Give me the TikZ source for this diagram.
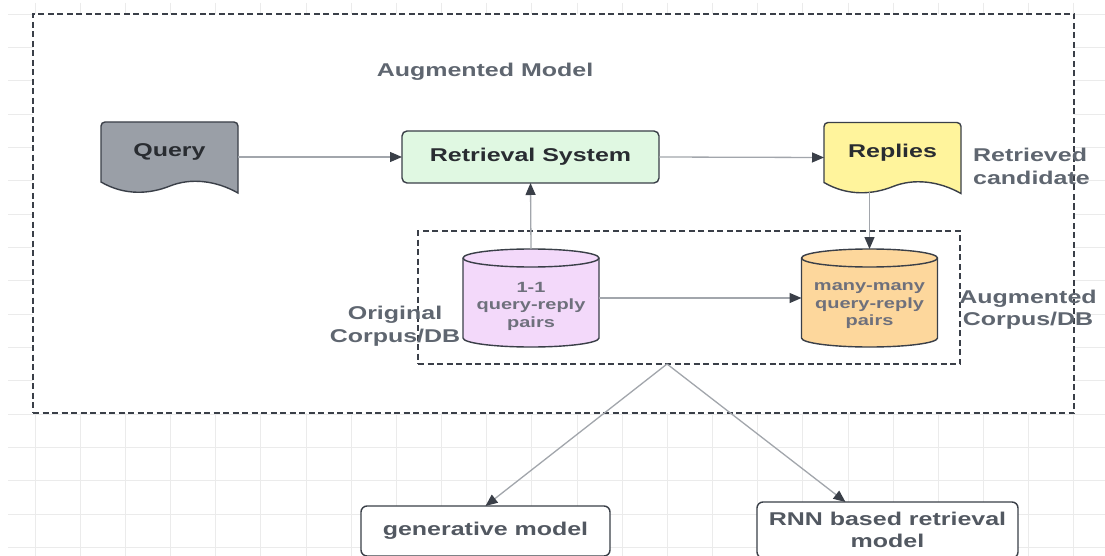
\documentclass[tikz,border=0pt]{standalone}
\usepackage{fontspec}
\setmainfont{Liberation Sans}[FakeStretch=1.35]
\usepackage{tikz}
\usepackage{xcolor}
\usetikzlibrary{arrows.meta,positioning,calc}

\definecolor{inkdark}{HTML}{3A3F48}
\definecolor{headink}{HTML}{292C31}
\definecolor{linkgray}{HTML}{A2A6AC}
\definecolor{gridgray}{HTML}{EBEBEB}
\definecolor{labelgray}{HTML}{5F6670}
\definecolor{dbink}{HTML}{6E707C}
\definecolor{boxink}{HTML}{525861}
\definecolor{querygray}{HTML}{9A9FA7}
\definecolor{retrgreen}{HTML}{E0F8E2}
\definecolor{replyyellow}{HTML}{FFF49C}
\definecolor{onepink}{HTML}{F3D9FA}
\definecolor{manyorange}{HTML}{FDD79C}

% sheet with a wavy lower edge, drawn over an empty node
\newcommand{\papershape}[2]{%
  \draw[line width=1.4pt, draw=inkdark, fill=#2, shift={(#1.south west)}]
    (0,0) .. controls (24,14) and (49,12) .. (69,4)
          .. controls (89,-4) and (114,-2) .. (137,11)
    [rounded corners=4pt] -- (137,-60) -- (0,-60) [sharp corners] -- cycle;}

% database drum, drawn over an empty node
\newcommand{\drumshape}[2]{%
  \draw[line width=1.4pt, draw=inkdark, fill=#2]
    ([yshift=-9pt]#1.north west) -- ([yshift=9pt]#1.south west)
    arc[start angle=180, end angle=360, x radius=68pt, y radius=9pt]
    -- ([yshift=-9pt]#1.north east)
    arc[start angle=0, end angle=180, x radius=68pt, y radius=9pt] -- cycle;
  \draw[line width=1.4pt, draw=inkdark] ([yshift=-9pt]#1.north west)
    arc[start angle=180, end angle=360, x radius=68pt, y radius=9pt];}

\begin{document}
\begin{tikzpicture}[x=1pt, y=-1pt,
    gridline/.style={draw=gridgray, line width=0.9pt},
    frame/.style={draw=inkdark, dash pattern=on 6pt off 3.5pt, line width=1.4pt, fill=white, inner sep=0pt, outer sep=0pt},
    blank/.style={inner sep=0pt, outer sep=0pt},
    heading/.style={font=\fontsize{18.5}{22.5}\selectfont\bfseries, text=headink},
    tag/.style={font=\fontsize{18.5}{22.5}\selectfont\bfseries, text=labelgray, inner sep=0pt},
    dbtext/.style={font=\fontsize{14.8}{17.5}\selectfont\bfseries, text=dbink, align=center},
    box/.style={draw=inkdark, line width=1.4pt, rounded corners=5pt, outer sep=0pt},
    link/.style={draw=linkgray, line width=1.3pt, -{Triangle[length=12pt, width=10pt, color=inkdark]}}]

  \useasboundingbox (0,0) rectangle (1105,556);
  \clip (0,0) rectangle (1105,556);
  \fill[white] (0,0) rectangle (1105,556);

  % canvas grid
  \foreach \i in {0,...,23}
    \draw[gridline] ({35+45.17*\i},3) -- ({35+45.17*\i},556);
  \foreach \j in {0,...,16}
    \draw[gridline] (8,{14+33.33*\j}) -- (1105,{14+33.33*\j});

  % containers
  \node[frame, minimum width=1041pt, minimum height=399pt] (model) at (553.5,213.5) {};
  \node[frame, minimum width=542pt, minimum height=133pt] (corpus) at (689,297.5) {};
  \node[tag] (modeltag) at (485,72) {Augmented Model};

  % query and replies sheets
  \node[blank, minimum width=137pt, minimum height=60pt] (query) at (169.5,152) {};
  \papershape{query}{querygray}
  \node[heading] (querytext) at (query.center) {Query};
  \node[blank, minimum width=137pt, minimum height=60pt] (replies) at (892.5,152.5) {};
  \papershape{replies}{replyyellow}
  \node[heading] (repliestext) at (replies.center) {Replies};
  \node[tag, align=left, right=12pt of replies, yshift=-14pt] (cand) {Retrieved\\candidate};

  \node[box, heading, fill=retrgreen, minimum width=257pt, minimum height=52pt] (retr) at (530.5,157) {Retrieval System};

  % corpora
  \node[blank, minimum width=136pt, minimum height=98pt] (one) at (531,298) {};
  \drumshape{one}{onepink}
  \node[dbtext] (onetext) at ([yshift=-8pt]one.center) {1-1\\query-reply\\pairs};
  \node[blank, minimum width=136pt, minimum height=98pt] (many) at (869.5,298) {};
  \drumshape{many}{manyorange}
  \node[dbtext] (manytext) at ([yshift=-8pt]many.center) {many-many\\query-reply\\pairs};
  \node[tag, align=center] (origtag) at (395,326) {Original\\Corpus/DB};
  \node[tag, align=center] (augtag) at (1028,309.5) {Augmented\\Corpus/DB};

  % downstream models
  \node[box, fill=white, rounded corners=6pt, font=\fontsize{18.5}{22.5}\selectfont\bfseries, text=boxink, minimum width=249pt, minimum height=50pt] (gen) at (485.5,531) {generative model};
  \node[box, fill=white, rounded corners=6pt, font=\fontsize{18.5}{22.5}\selectfont\bfseries, text=boxink, align=center, minimum width=261pt, minimum height=56pt] (rnn) at (887.5,530) {RNN based retrieval\\model};

  \draw[link] ([yshift=-5pt]query.east) -- (retr.west);
  \draw[link] (retr.east) -- ([yshift=-5pt]replies.west);
  \draw[link] (one.north) -- (retr.south);
  \draw[link, shorten <=10pt] (replies.south -| many.north) -- (many.north);
  \draw[link] (one.east) -- (many.west);
  \draw[link] ([xshift=-22pt]corpus.south) -- (gen.north);
  \draw[link] ([xshift=-22pt]corpus.south) -- ([xshift=-42pt]rnn.north);
\end{tikzpicture}
\end{document}
